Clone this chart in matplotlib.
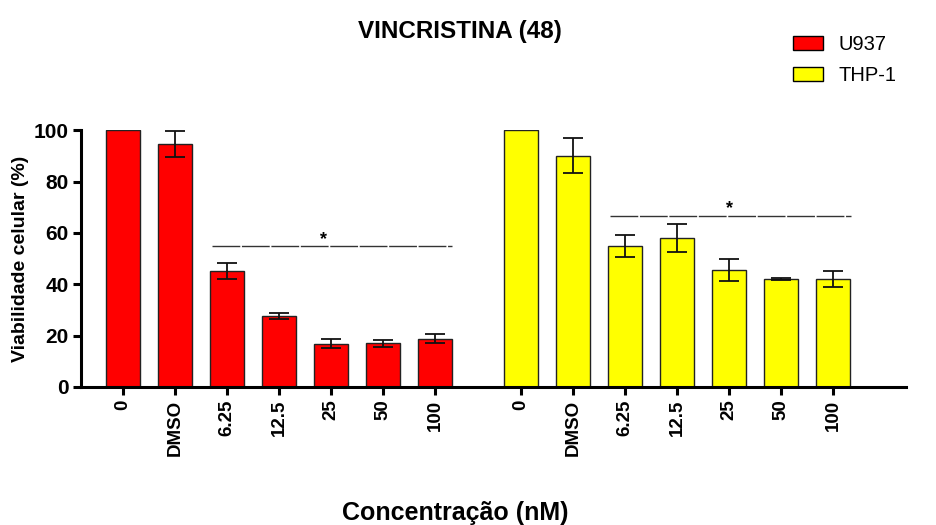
import numpy as np
import matplotlib
matplotlib.use('Agg')
from matplotlib import pyplot as plt
from matplotlib.patches import Patch

plt.rcParams['font.family'] = ['Liberation Sans', 'DejaVu Sans']

# data
categories = ['0', 'DMSO', '6.25', '12.5', '25', '50', '100']
u937_mean = [100, 94.6, 45.3, 27.6, 16.8, 17.0, 18.8]
u937_err = [0, 5.0, 3.1, 1.3, 1.7, 1.3, 1.7]
thp1_mean = [100, 90.0, 55.0, 58.1, 45.5, 42.0, 42.2]
thp1_err = [0, 6.8, 4.2, 5.4, 4.2, 0.5, 3.1]
series_names = ['U937', 'THP-1']
colors = ['#ff0000', '#ffff00']

fig = plt.figure(figsize=(9.37, 5.25), dpi=100)
ax = fig.add_axes([0.0864, 0.263, 0.88, 0.489])

pos1 = np.arange(len(categories))
pos2 = pos1 + 7.65
w = 0.65

ax.bar(pos1, u937_mean, w, color=colors[0], edgecolor='#222222', linewidth=1, zorder=2)
ax.bar(pos2, thp1_mean, w, color=colors[1], edgecolor='#222222', linewidth=1, zorder=2)
ax.errorbar(pos1[1:], u937_mean[1:], yerr=u937_err[1:], fmt='none', ecolor='#111111',
            elinewidth=1.3, capsize=7, capthick=1.3, zorder=3, clip_on=False)
ax.errorbar(pos2[1:], thp1_mean[1:], yerr=thp1_err[1:], fmt='none', ecolor='#111111',
            elinewidth=1.3, capsize=7, capthick=1.3, zorder=3, clip_on=False)

# significance bars
ax.plot([pos1[2] - 0.3, pos1[6] + 0.33], [54.9, 54.9], color='#333333', lw=1,
        dashes=(20, 1.2), clip_on=False)
ax.text((pos1[2] + pos1[6]) / 2 - 0.15, 54.2, '*', ha='center', va='bottom',
        fontsize=13, fontweight='bold')
ax.plot([pos2[2] - 0.3, pos2[6] + 0.35], [66.4, 66.4], color='#333333', lw=1,
        dashes=(20, 1.2), clip_on=False)
ax.text((pos2[2] + pos2[6]) / 2, 66.0, '*', ha='center', va='bottom',
        fontsize=13, fontweight='bold')

ax.set_xlim(-0.81, 15.04)
ax.set_ylim(0, 100)
ax.set_yticks([0, 20, 40, 60, 80, 100])
ax.set_xticks(np.concatenate([pos1, pos2]))
ax.set_xticklabels(categories + categories, rotation=90, fontweight='bold', fontsize=13.5)
for lab in ax.get_yticklabels():
    lab.set_fontweight('bold')
    lab.set_fontsize(15)

ax.spines['top'].set_visible(False)
ax.spines['right'].set_visible(False)
ax.spines['left'].set_linewidth(2.2)
ax.spines['bottom'].set_linewidth(2.2)
ax.tick_params(axis='both', width=2.2, length=6, direction='out', pad=3)

ax.set_ylabel('Viabilidade celular (%)', fontsize=14, fontweight='bold', labelpad=3)
fig.text(0.486, 0.0095, 'Concentração (nM)', ha='center', va='baseline',
         fontsize=18, fontweight='bold')
fig.text(0.491, 0.94, 'VINCRISTINA (48)', ha='center', va='center',
         fontsize=17.5, fontweight='bold')

handles = [Patch(facecolor=c, edgecolor='black', linewidth=1) for c in colors]
fig.legend(handles, series_names, loc='upper left', bbox_to_anchor=(0.846, 0.934),
           frameon=False, fontsize=14.5, handlelength=1.5, handleheight=0.7,
           handletextpad=0.75, labelspacing=0.6, borderpad=0, borderaxespad=0)

plt.savefig('out.png', dpi=100)
